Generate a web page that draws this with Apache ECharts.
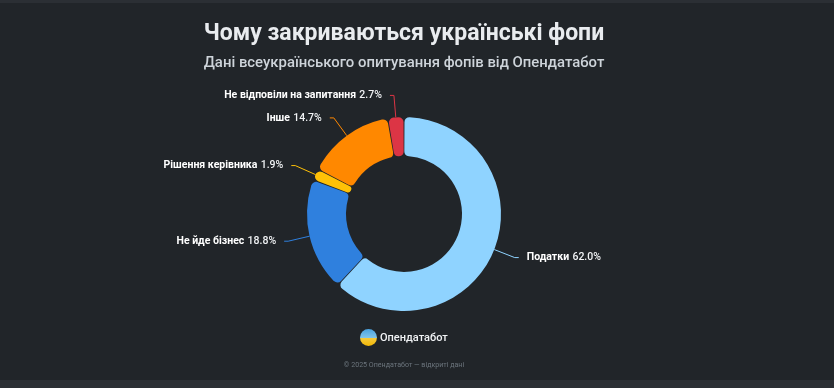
<!DOCTYPE html>
<html><head><meta charset="utf-8">
<script src="https://cdn.jsdelivr.net/npm/echarts@6/dist/echarts.min.js"></script>
<style>
html,body{margin:0;padding:0;background:#212529;width:834px;height:388px;overflow:hidden}
#c{position:absolute;left:0;top:0;width:834px;height:388px}
</style></head><body><div id="c"></div>
<script>
const categories = ['Податки','Не йде бізнес','Рішення керівника','Інше','Не відповіли на запитання'];
const values = [62.0,18.8,1.9,14.7,2.7];
const colors = ['#8fd3ff','#2f80de','#ffc107','#ff8800','#dc3545'];
const titleText = 'Чому закриваються українські фопи';
const subtitleText = 'Дані всеукраїнського опитування фопів від Опендатабот';
const brandText = 'Опендатабот';
const footerText = '© 2025 Опендатабот — відкриті дані';
const font = 'Roboto,"Open Sans",sans-serif';
const chart = echarts.init(document.getElementById('c'), null, {renderer:'canvas'});
const centered = (text, y, size, weight, color) => ({
  type:'text',
  style:{x:404,y,text,fill:color,font:`${weight} ${size}px ${font}`,textAlign:'center',textVerticalAlign:'middle'}
});
chart.setOption({
  backgroundColor:'#212529',
  animation:false,
  graphic:[
    {type:'rect',left:0,top:0,shape:{width:834,height:3},style:{fill:'#2b2f34'}},
    {type:'rect',left:0,top:380,shape:{width:834,height:8},style:{fill:'#2b2f34'}},
    centered(titleText,34,23,700,'#e9ecef'),
    centered(subtitleText,63,14.9,500,'#ced4da'),
    centered(footerText,365,7.1,400,'#6c757d'),
    {type:'circle',shape:{cx:368.5,cy:337.5,r:8.5},style:{fill:{type:'linear',x:0,y:0,x2:0,y2:1,colorStops:[{offset:0,color:'#4aa3e0'},{offset:0.5,color:'#7fc3e8'},{offset:0.55,color:'#f5c93a'},{offset:1,color:'#f2b705'}]}}},
    {type:'text',style:{x:380,y:338,text:brandText,fill:'#f1f3f5',font:'500 11px '+font,textVerticalAlign:'middle'}}
  ],
  series:[{
    type:'pie',
    center:[404,214],
    radius:[58,97],
    startAngle:90,
    clockwise:true,
    padAngle:0.6,
    itemStyle:{borderRadius:5},
    label:{
      show:true,
      distanceToLabelLine:8,
      formatter:p=>`{n|${p.name}} {v|${p.value.toFixed(1)}%}`,
      rich:{
        n:{color:'#ffffff',fontFamily:font,fontSize:10.5,fontWeight:700},
        v:{color:'#f1f3f5',fontFamily:font,fontSize:10.5,fontWeight:500}
      }
    },
    labelLine:{show:true,length:22,length2:4,smooth:false,lineStyle:{width:1}},
    data:categories.map((name,i)=>({name,value:values[i],itemStyle:{color:colors[i]}}))
  }]
});
</script></body></html>
